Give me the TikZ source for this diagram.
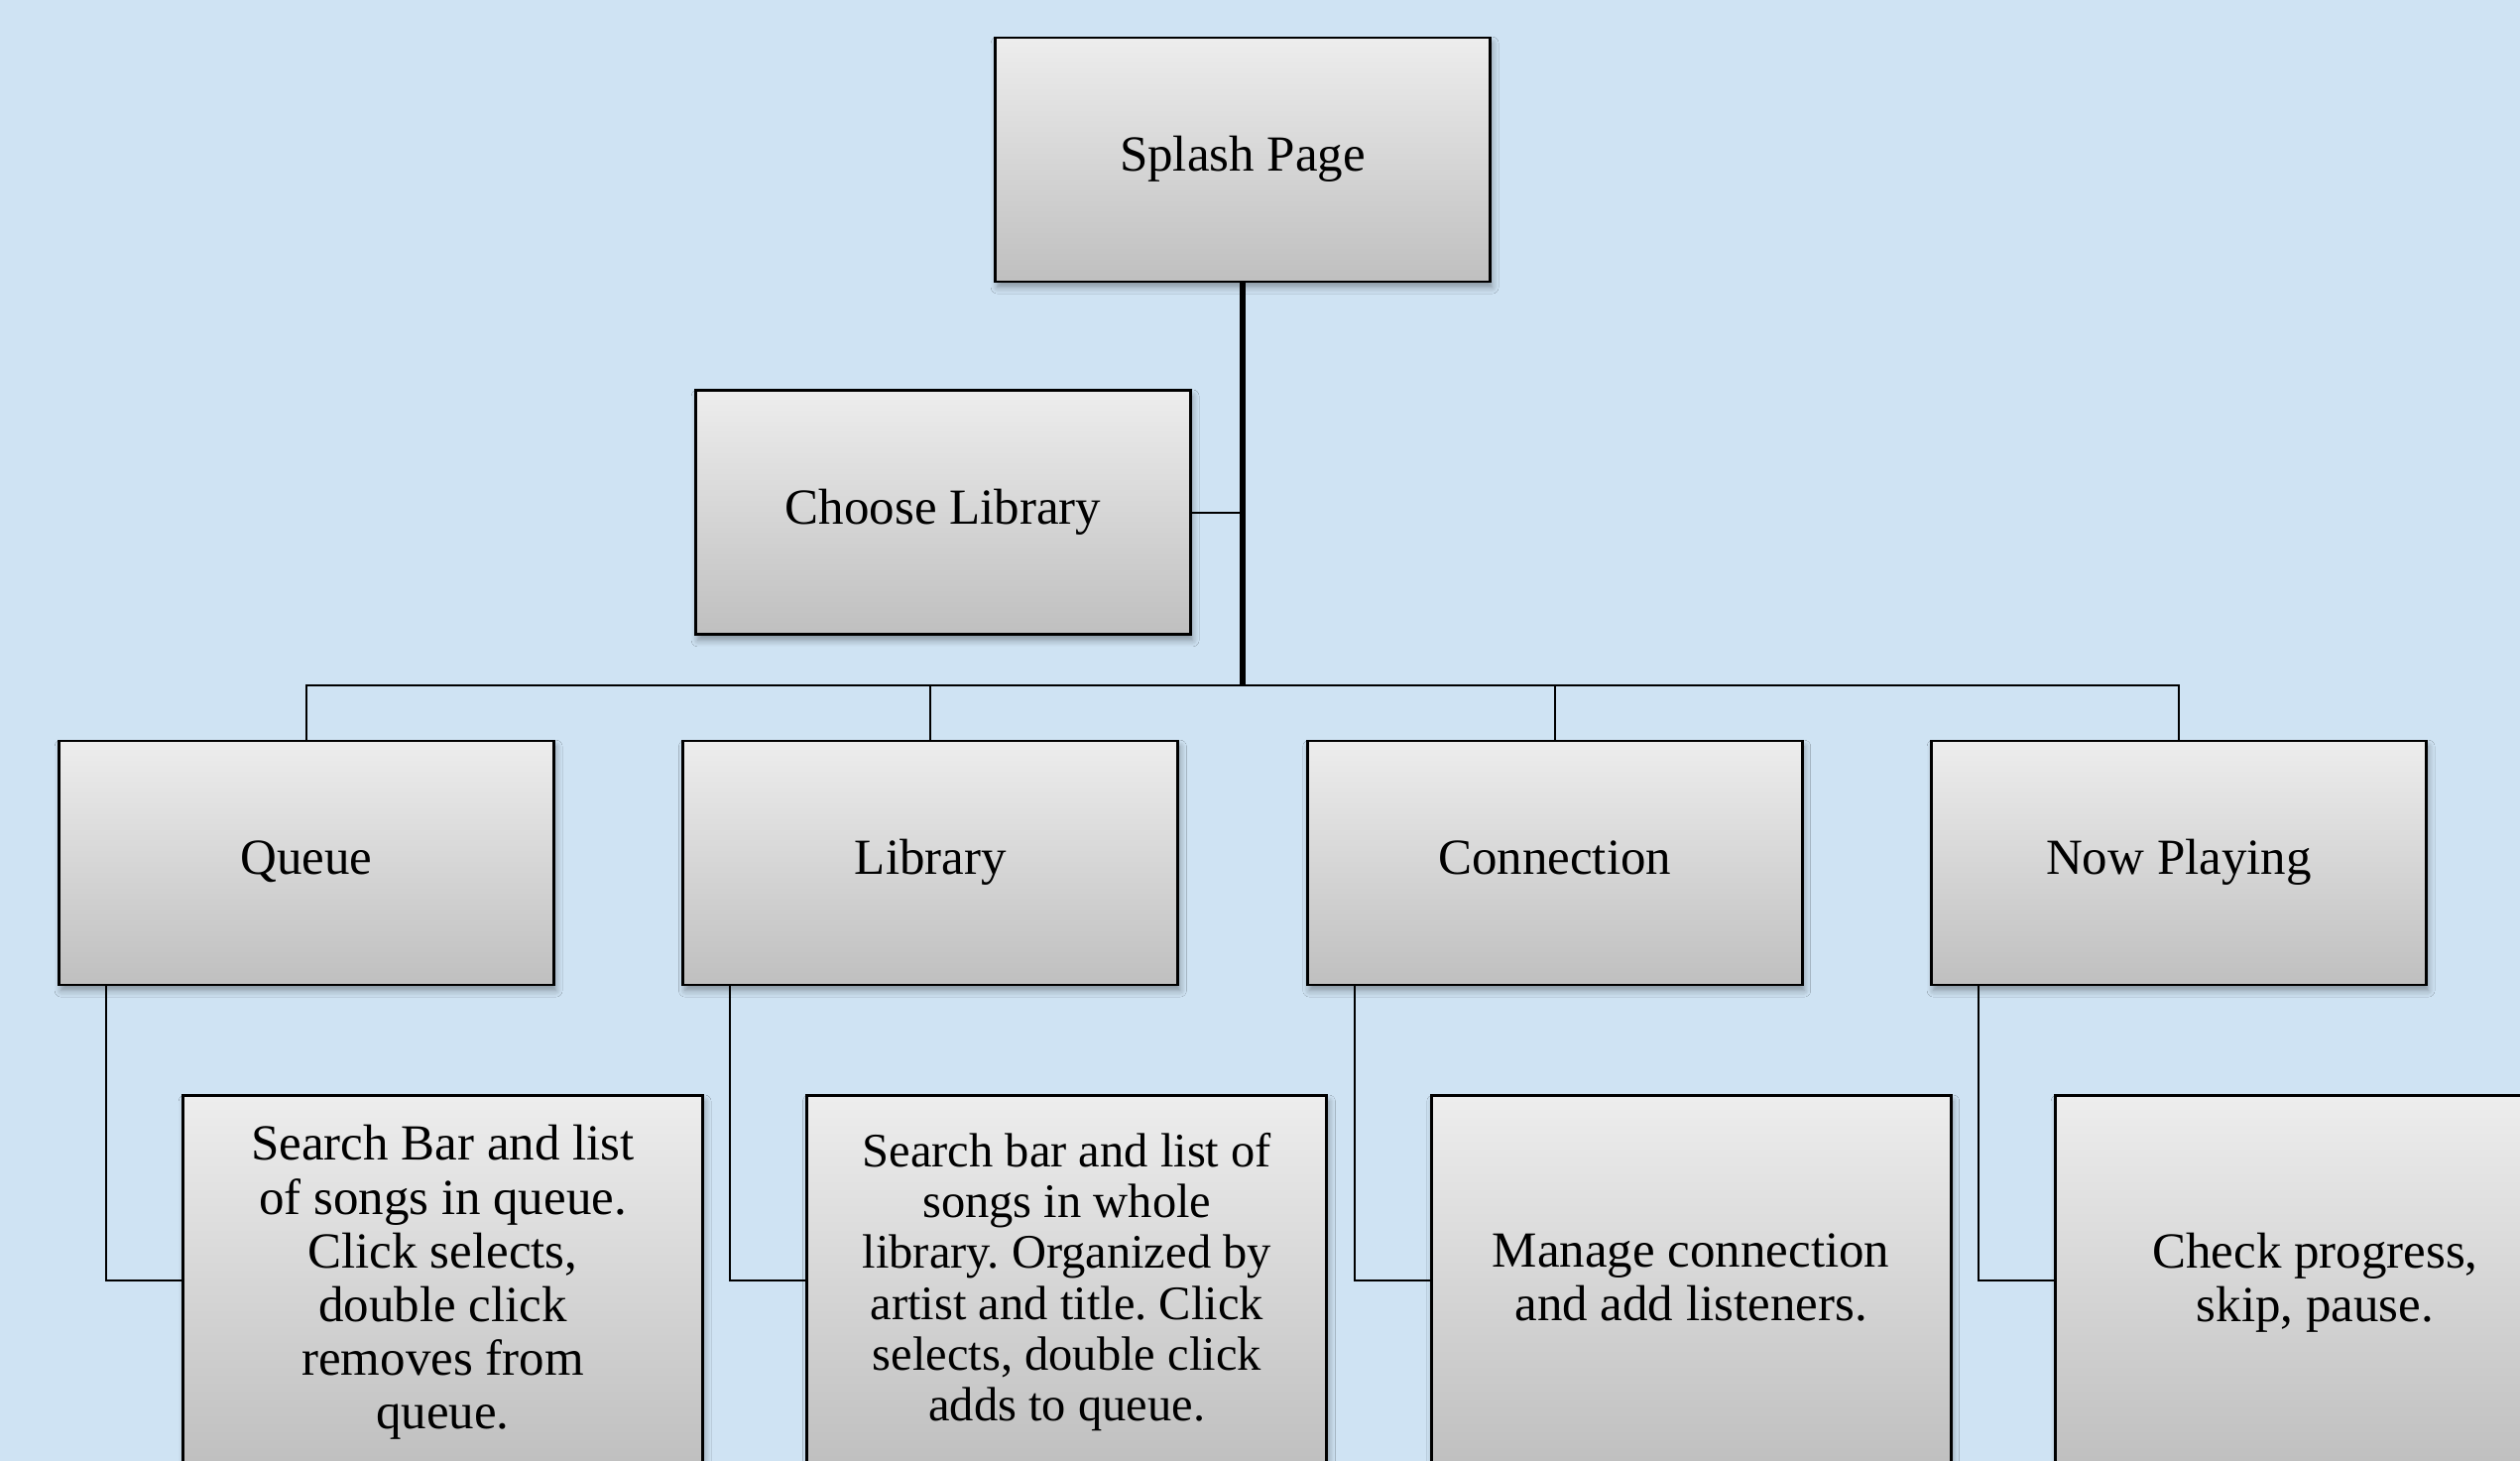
\documentclass[tikz,border=0pt]{standalone}
\usepackage{fontspec}
\setmainfont{Liberation Serif}
\usepackage{tikz}
\usetikzlibrary{positioning,calc,shadows.blur}
\definecolor{bgblue}{RGB}{207,227,243}
\frenchspacing

\begin{document}
\begin{tikzpicture}[
    node distance=1.275cm,
    cell/.style={draw, line width=0.8pt, minimum width=4.99cm, minimum height=2.46cm,
        top color=black!7, bottom color=black!25, align=center,
        font=\fontsize{14.5}{15.4}\selectfont,
        blur shadow={shadow xshift=0.6pt, shadow yshift=-1.6pt, shadow blur steps=6, shadow opacity=35}},
    box/.style={cell, text height=1.9ex, text depth=0.45ex},
    detail/.style={cell, minimum width=5.24cm, minimum height=3.73cm, anchor=north west, text depth=0.47ex},
    link/.style={line width=0.6pt},
    trunk/.style={line width=1.8pt},
]
\fill[bgblue] (0,0) rectangle (25.41,-14.73);
\useasboundingbox (0,0) rectangle (25.41,-14.73);

\node[box] (S) at (12.53,-1.61) {Splash Page};
\node[box, below=1.07cm of S, xshift=-3.02cm] (CL) {Choose Library};

\node[box] (Q) at (3.09,-8.70) {Queue};
\node[box, right=of Q] (L) {Library};
\node[box, right=of L] (C) {Connection};
\node[box, right=of C] (N) {Now Playing};

\coordinate (bus) at ($(S.south |- Q.north)+(0,0.55)$);

\foreach \n in {Q,L,C,N}
    \draw[link] (\n.north) |- (bus);
\draw[trunk] (S.south) -- (bus);
\draw[link] (CL.east) -- (CL.east -| S.south);

\node[detail] (Qd) at ($(Q.south west)+(1.25,-1.09)$) {Search Bar and list\\of songs in queue.\\Click selects,\\double click\\removes from\\queue.};
\node[detail, font=\fontsize{13.8}{14.6}\selectfont] (Ld) at ($(L.south west)+(1.25,-1.09)$) {Search bar and list of\\songs in whole\\library. Organized by\\artist and title. Click\\selects, double click\\adds to queue.};
\node[detail] (Cd) at ($(C.south west)+(1.25,-1.09)$) {Manage connection\\and add listeners.};
\node[detail] (Nd) at ($(N.south west)+(1.25,-1.09)$) {Check progress,\\skip, pause.};

\draw[link] ([xshift=0.49cm]Q.south west) |- (Qd.west);
\draw[link] ([xshift=0.49cm]L.south west) |- (Ld.west);
\draw[link] ([xshift=0.49cm]C.south west) |- (Cd.west);
\draw[link] ([xshift=0.49cm]N.south west) |- (Nd.west);
\end{tikzpicture}
\end{document}
